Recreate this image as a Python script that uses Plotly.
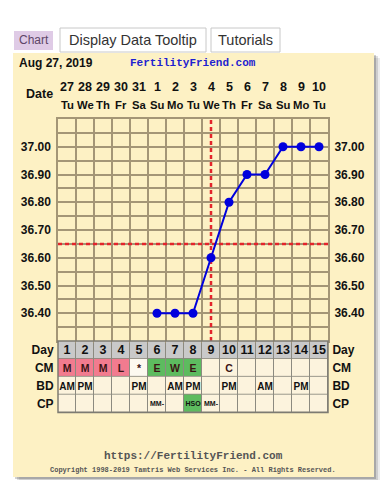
import plotly.graph_objects as go

# ---------------- data ----------------
days = list(range(1, 16))
dates = ["27", "28", "29", "30", "31", "1", "2", "3", "4", "5", "6", "7", "8", "9", "10"]
weekdays = ["Tu", "We", "Th", "Fr", "Sa", "Su", "Mo", "Tu", "We", "Th", "Fr", "Sa", "Su", "Mo", "Tu"]
temp_days = [6, 7, 8, 9, 10, 11, 12, 13, 14, 15]
temps = [36.40, 36.40, 36.40, 36.60, 36.80, 36.90, 36.90, 37.00, 37.00, 37.00]
coverline = 36.65
ovulation_day = 9
temp_ticks = [36.40, 36.50, 36.60, 36.70, 36.80, 36.90, 37.00]
temp_range = [36.30, 37.10]

row_labels = ["Day", "CM", "BD", "CP"]
day_text = [str(d) for d in days]
day_code = [0] * 15
cm_text = ["M", "M", "M", "L", "*", "E", "W", "E", "", "C", "", "", "", "", ""]
cm_code = [1, 1, 1, 1, 2, 3, 3, 3, 4, 4, 4, 4, 4, 4, 4]
bd_text = ["AM", "PM", "", "", "PM", "", "AM", "PM", "", "PM", "", "AM", "", "PM", ""]
bd_code = [4] * 15
cp_text = ["", "", "", "", "", "MM-", "", "HSO", "MM-", "", "", "", "", "", ""]
cp_code = [4, 4, 4, 4, 4, 4, 4, 3, 4, 4, 4, 4, 4, 4, 4]
cell_colors = ["#c9c9c9", "#f27b8f", "#fdf9f0", "#5dbb5f", "#fcf3dd"]

# ---------------- geometry helpers ----------------
W, H = 386, 480
def px(x):
    return x / W
def py(y):
    return 1 - y / H

SANS = "Liberation Sans"
MONO = "Liberation Mono"
GRID = "#a49676"
PANEL = "#fdf1c4"

x_dom = [px(58), px(328)]
plot_dom = [py(341), py(119)]
table_dom = [py(412.5), py(341)]

n = len(cell_colors)
cs = []
for i, c in enumerate(cell_colors):
    cs.append([i / n, c])
    cs.append([(i + 1) / n, c])

fig = go.Figure()

# coverline and ovulation line
fig.add_trace(go.Scatter(x=[0.5, 15.5], y=[coverline, coverline], mode="lines",
                         line=dict(color="#e3242b", width=2.5, dash="4px,3px"),
                         hoverinfo="skip", showlegend=False))
fig.add_trace(go.Scatter(x=[ovulation_day, ovulation_day], y=temp_range, mode="lines",
                         line=dict(color="#e3242b", width=2.5, dash="4px,3px"),
                         hoverinfo="skip", showlegend=False))
# temperatures
fig.add_trace(go.Scatter(x=temp_days, y=temps, mode="lines+markers",
                         line=dict(color="#0000dd", width=2),
                         marker=dict(color="#0000dd", size=9),
                         showlegend=False))
# invisible trace for right axis
fig.add_trace(go.Scatter(x=temp_days, y=temps, yaxis="y2", mode="markers",
                         marker=dict(opacity=0), hoverinfo="skip", showlegend=False))

# table rows
rows = [
    (0, day_code, day_text, 12.5, "#111111"),
    (1, cm_code, cm_text, 10.5, "#3a1414"),
    (2, bd_code, bd_text, 10, "#111111"),
    (3, cp_code, cp_text, 7, "#111111"),
]
for yv, codes, texts, size, col in rows:
    fig.add_trace(go.Heatmap(
        x=days, y=[yv], z=[codes], text=[texts], texttemplate="<b>%{text}</b>",
        textfont=dict(family=SANS, size=size, color=col),
        colorscale=cs, zmin=-0.5, zmax=n - 0.5, showscale=False,
        xgap=1, ygap=1, hoverinfo="skip", xaxis="x2", yaxis="y3"))
fig.add_trace(go.Scatter(x=[1], y=[0], xaxis="x2", yaxis="y4", mode="markers",
                         marker=dict(opacity=0), hoverinfo="skip", showlegend=False))

shapes = [
    # shadow
    dict(type="rect", xref="paper", yref="paper", x0=px(19), x1=px(380), y0=py(482), y1=py(58),
         fillcolor="rgba(0,0,0,0.08)", line=dict(width=0), layer="below"),
    dict(type="rect", xref="paper", yref="paper", x0=px(17), x1=px(378), y0=py(480), y1=py(56),
         fillcolor="rgba(0,0,0,0.12)", line=dict(width=0), layer="below"),
    dict(type="rect", xref="paper", yref="paper", x0=px(15), x1=px(376), y0=py(479), y1=py(55),
         fillcolor="rgba(0,0,0,0.18)", line=dict(width=0), layer="below"),
    # panel
    dict(type="rect", xref="paper", yref="paper", x0=px(13), x1=px(374), y0=py(477), y1=py(53),
         fillcolor=PANEL, line=dict(width=0), layer="below"),
    # table grid background
    dict(type="rect", xref="x2 domain", yref="y3 domain", x0=0, x1=1, y0=0, y1=1,
         fillcolor="#8c8a80", line=dict(width=0), layer="below"),
    dict(type="rect", xref="x2 domain", yref="y3 domain", x0=0, x1=1, y0=0, y1=1,
         fillcolor="rgba(0,0,0,0)", line=dict(width=1.5, color="#7d7b72"), layer="above"),
    # buttons
    dict(type="rect", xref="paper", yref="paper", x0=px(14), x1=px(53), y0=py(50), y1=py(31),
         fillcolor="#dfcbe6", line=dict(width=0)),
    dict(type="rect", xref="paper", yref="paper", x0=px(60), x1=px(206), y0=py(52), y1=py(28),
         fillcolor="#ffffff", line=dict(width=1, color="#c8c8c8")),
    dict(type="rect", xref="paper", yref="paper", x0=px(211), x1=px(280), y0=py(52), y1=py(28),
         fillcolor="#ffffff", line=dict(width=1, color="#c8c8c8")),
]

ann = []
def text(x, y, s, size, color="#111111", family=SANS, xanchor="center", bold=True, xref="paper"):
    ann.append(dict(x=x, y=y, xref=xref, yref="paper", text=s, showarrow=False,
                    xanchor=xanchor, yanchor="middle",
                    font=dict(family=family, size=size, color=color,
                              weight="bold" if bold else "normal")))

# buttons text
text(px(33.5), py(40), "Chart", 12, "#5e4668", bold=False)
text(px(133), py(40), "Display Data Tooltip", 14.5, "#333333", bold=False)
text(px(245.5), py(40), "Tutorials", 14.5, "#333333", bold=False)
# header
text(px(17), py(63), "Aug 27, 2019", 12, "#111111", xanchor="left")
text(px(193), py(63), "FertilityFriend.com", 11, "#1f1fd0", family=MONO)
text(px(55), py(94), "Date", 12.5, "#111111", xanchor="right")
for d, ds, wd in zip(days, dates, weekdays):
    text(d, py(87), ds, 12.5, "#111111", xref="x")
    text(d, py(105), wd, 11.3, "#111111", xref="x")
# footer
text(px(193.5), py(456), "https://FertilityFriend.com", 11, "#555555", family=MONO)
text(px(193), py(469.5), "Copyright 1998-2019 Tamtris Web Services Inc. - All Rights Reserved.",
     7, "#555555", family=MONO)

tick_text = ["%.2f" % t for t in temp_ticks]
yfont = dict(family=SANS, size=12, color="#111111", weight="bold")

fig.update_layout(
    width=W, height=H, margin=dict(l=0, r=0, t=0, b=0),
    paper_bgcolor="#ffffff", plot_bgcolor="rgba(0,0,0,0)",
    showlegend=False, shapes=shapes, annotations=ann,
    xaxis=dict(domain=x_dom, range=[0.5, 15.5], anchor="y",
               tickvals=[d + 0.5 for d in range(0, 16)], showticklabels=False, ticks="",
               showgrid=True, gridcolor=GRID, gridwidth=1.5, zeroline=False,
               showline=True, mirror=True, linecolor=GRID, linewidth=1.5),
    yaxis=dict(domain=plot_dom, range=temp_range, anchor="x",
               tickvals=temp_ticks, ticktext=tick_text, tickfont=yfont,
               ticks="outside", ticklen=3, tickcolor="rgba(0,0,0,0)",
               showgrid=True, gridcolor=GRID, gridwidth=1.5, zeroline=False,
               minor=dict(tick0=36.30, dtick=0.05, showgrid=True, gridcolor=GRID, gridwidth=1.5,
                          ticks=""),
               showline=True, mirror=True, linecolor=GRID, linewidth=1.5),
    yaxis2=dict(overlaying="y", side="right", range=temp_range, anchor="x",
                tickvals=temp_ticks, ticktext=tick_text, tickfont=yfont,
                ticks="outside", ticklen=3, tickcolor="rgba(0,0,0,0)",
                showgrid=False, zeroline=False, showline=False),
    xaxis2=dict(domain=x_dom, range=[0.5, 15.5], anchor="y3", visible=False),
    yaxis3=dict(domain=table_dom, range=[3.5, -0.5], anchor="x2",
                tickvals=[0, 1, 2, 3], ticktext=row_labels, tickfont=yfont,
                ticks="outside", ticklen=1, tickcolor="rgba(0,0,0,0)",
                showgrid=False, zeroline=False, showline=False),
    yaxis4=dict(overlaying="y3", side="right", range=[3.5, -0.5], anchor="x2",
                tickvals=[0, 1, 2, 3], ticktext=row_labels, tickfont=yfont,
                ticks="outside", ticklen=1, tickcolor="rgba(0,0,0,0)",
                showgrid=False, zeroline=False, showline=False),
)

fig.write_html("out.html", config={"displayModeBar": False},
               post_script="document.body.style.margin='0';document.body.style.overflow='hidden';")
